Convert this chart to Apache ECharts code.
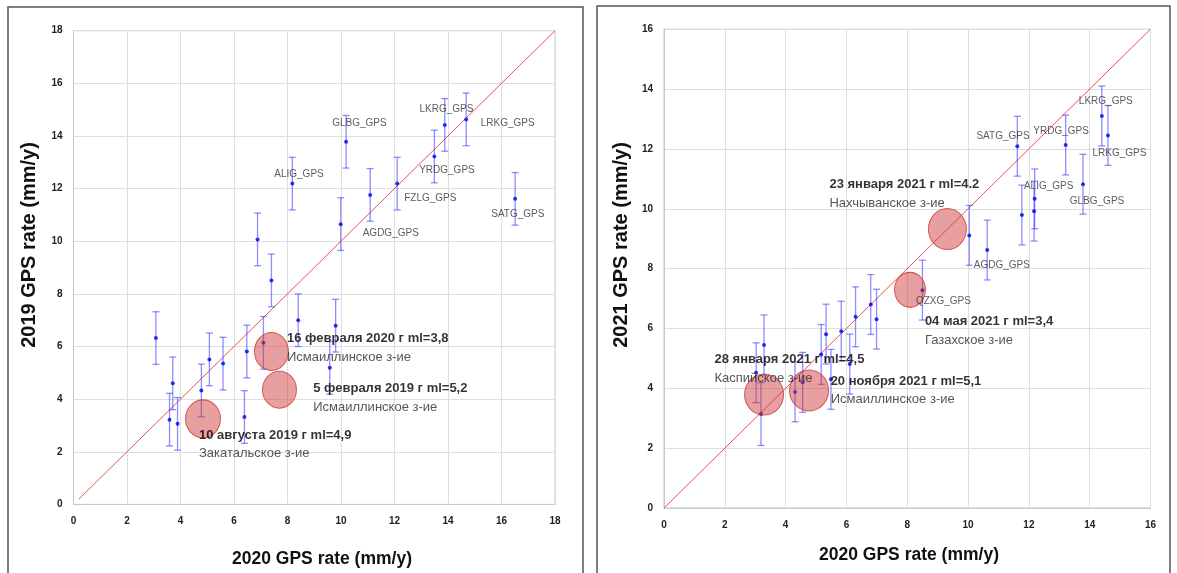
<!DOCTYPE html>
<html>
<head>
<meta charset="utf-8">
<script src="https://cdn.jsdelivr.net/npm/echarts@6/dist/echarts.min.js"></script>
<style>
  html, body { margin: 0; padding: 0; background: #fff; }
  #chart { width: 1177px; height: 573px; }
</style>
</head>
<body>
<div id="chart"></div>
<script>
// ---- left panel: 2020 vs 2019 ----
const leftX = [3.08, 3.59, 3.71, 3.89, 4.78, 5.08, 5.59, 6.39, 6.48, 6.88, 7.10, 7.40, 8.18, 8.40, 9.58, 9.80, 9.99, 10.19, 11.09, 12.10, 13.49, 13.88, 14.68, 16.51];
const leftY = [6.32, 3.22, 4.60, 3.06, 4.33, 5.51, 5.35, 3.32, 5.81, 10.07, 6.14, 8.51, 12.19, 7.00, 5.19, 6.79, 10.65, 13.78, 11.76, 12.19, 13.22, 14.42, 14.63, 11.61];
const leftErr = [1.0, 1.0, 1.0, 1.0, 1.0, 1.0, 1.0, 1.0, 1.0, 1.0, 1.0, 1.0, 1.0, 1.0, 1.0, 1.0, 1.0, 1.0, 1.0, 1.0, 1.0, 1.0, 1.0, 1.0];
const leftStations = ['ALIG_GPS', 'GLBG_GPS', 'LKRG_GPS', 'LRKG_GPS', 'YRDG_GPS', 'FZLG_GPS', 'AGDG_GPS', 'SATG_GPS'];
const leftStationX = [8.43, 10.69, 13.94, 16.23, 13.96, 13.34, 11.86, 16.61];
const leftStationY = [12.53, 14.47, 15.03, 14.47, 12.69, 11.63, 10.31, 11.04];
const leftQuakeX = [4.84, 7.40, 7.70];
const leftQuakeY = [3.25, 5.81, 4.36];
const leftQuakeTitle = ['10 августа 2019 г ml=4,9', '16 февраля 2020 г ml=3,8', '5 февраля 2019 г ml=5,2'];
const leftQuakePlace = ['Закатальское з-ие', 'Исмаиллинское з-ие', 'Исмаиллинское з-ие'];
const leftQuakeTextX = [4.69, 7.98, 8.96];
const leftQuakeTextY = [2.64, 6.29, 4.40];
const leftDiag = [0.2, 18];

// ---- right panel: 2020 vs 2021 ----
const rightX = [3.03, 3.19, 3.29, 4.31, 4.56, 5.17, 5.33, 5.49, 5.83, 6.11, 6.30, 6.80, 6.99, 8.50, 10.04, 10.63, 11.77, 12.17, 12.19, 11.62, 13.21, 13.78, 14.40, 14.60];
const rightY = [4.52, 3.14, 5.45, 3.88, 4.20, 5.13, 5.81, 4.30, 5.91, 4.81, 6.39, 6.80, 6.31, 7.28, 9.11, 8.62, 9.79, 9.92, 10.33, 12.09, 12.13, 10.82, 13.10, 12.45];
const rightErr = [1.0, 1.05, 1.0, 1.0, 1.0, 1.0, 1.0, 1.0, 1.0, 1.0, 1.0, 1.0, 1.0, 1.0, 1.0, 1.0, 1.0, 1.0, 1.0, 1.0, 1.0, 1.0, 1.0, 1.0];
const rightStations = ['LKRG_GPS', 'SATG_GPS', 'YRDG_GPS', 'LRKG_GPS', 'ALIG_GPS', 'GLBG_GPS', 'AGDG_GPS', 'QZXG_GPS'];
const rightStationX = [14.53, 11.15, 13.06, 14.98, 12.65, 14.24, 11.11, 9.19];
const rightStationY = [13.59, 12.41, 12.60, 11.84, 10.74, 10.25, 8.10, 6.90];
const rightQuakeX = [9.32, 8.09, 3.29, 4.77];
const rightQuakeY = [9.32, 7.29, 3.79, 3.93];
const rightQuakeTitle = ['23 января 2021 г ml=4.2', '04 мая 2021 г ml=3,4', '28 января 2021 г ml=4,5', '20 ноября 2021 г ml=5,1'];
const rightQuakePlace = ['Нахчыванское з-ие', 'Газахское з-ие', 'Каспийское з-ие', 'Исмаиллинское з-ие'];
const rightQuakeTextX = [5.44, 8.58, 1.66, 5.48];
const rightQuakeTextY = [10.81, 6.23, 4.95, 4.24];
const rightDiag = [0, 16];

// bubble sizes [w, h] in px (style, not data)
const leftBubbleSize = [[35, 38], [34, 38], [34, 37]];
const rightBubbleSize = [[38, 41], [31, 35], [39, 41], [39, 41]];

const FONT = '"Liberation Sans", Arial, sans-serif';
const chart = echarts.init(document.getElementById('chart'));

function errBar(params, api) {
    const x = api.value(0), y = api.value(1), e = api.value(2);
    const top = api.coord([x, y + e]);
    const bot = api.coord([x, y - e]);
    const st = { stroke: 'rgba(50,50,255,0.55)', lineWidth: 1.3 };
    const c = 3.5;
    return {
        type: 'group',
        children: [
            { type: 'line', shape: { x1: top[0], y1: top[1], x2: bot[0], y2: bot[1] }, style: st },
            { type: 'line', shape: { x1: top[0] - c, y1: top[1], x2: top[0] + c, y2: top[1] }, style: st },
            { type: 'line', shape: { x1: bot[0] - c, y1: bot[1], x2: bot[0] + c, y2: bot[1] }, style: st }
        ]
    };
}

function panelSeries(idx, xs, ys, errs, st, stX, stY, qX, qY, qTitle, qPlace, qTX, qTY, diag, bubbleSize) {
    const ax = { xAxisIndex: idx, yAxisIndex: idx };
    const lineH = idx === 0 ? 0.71 : 0.62;
    const textData = [];
    qTitle.forEach((t, i) => {
        textData.push({ value: [qTX[i], qTY[i]], name: t, label: { fontWeight: 'bold', color: '#000' } });
        textData.push({ value: [qTX[i], qTY[i] - lineH], name: qPlace[i], label: { fontWeight: 'normal', color: '#2a2a2a' } });
    });
    return [
        Object.assign({
            type: 'line', data: [[diag[0], diag[0]], [diag[1], diag[1]]],
            symbol: 'none', lineStyle: { color: '#e05555', width: 1 }, z: 2, silent: true
        }, ax),
        Object.assign({
            type: 'custom', renderItem: errBar,
            data: xs.map((x, i) => [x, ys[i], errs[i]]),
            encode: { x: 0, y: 1 }, z: 3
        }, ax),
        Object.assign({
            type: 'scatter', data: xs.map((x, i) => [x, ys[i]]),
            symbolSize: 4, itemStyle: { color: '#0000ee' }, z: 4
        }, ax),
        Object.assign({
            type: 'scatter',
            data: qX.map((x, i) => ({ value: [x, qY[i]], symbolSize: bubbleSize[i] })),
            itemStyle: { color: 'rgba(205,55,55,0.6)', borderColor: '#c83a3a', borderWidth: 1 },
            z: 5
        }, ax),
        Object.assign({
            type: 'scatter', symbolSize: 0,
            data: st.map((s, i) => ({ value: [stX[i], stY[i]], name: s })),
            label: { show: true, position: 'inside', formatter: '{b}', fontSize: 10, color: '#333', fontFamily: FONT },
            z: 6
        }, ax),
        Object.assign({
            type: 'scatter', symbolSize: 0, data: textData,
            label: { show: true, position: 'right', distance: 0, formatter: '{b}', fontSize: 13, fontFamily: FONT },
            z: 7
        }, ax)
    ];
}

function xAxisCfg(idx, max) {
    return {
        gridIndex: idx, type: 'value', min: 0, max: max, interval: 2,
        axisLine: { lineStyle: { color: '#c8c8c8' } }, axisTick: { show: false },
        axisLabel: { fontSize: 10, fontWeight: 'bold', color: '#222', margin: 12, fontFamily: FONT },
        splitLine: { lineStyle: { color: '#dedede' } }
    };
}
function yAxisCfg(idx, max) {
    return {
        gridIndex: idx, type: 'value', min: 0, max: max, interval: 2,
        axisLine: { show: true, lineStyle: { color: '#c8c8c8' } }, axisTick: { show: false },
        axisLabel: { fontSize: 10, fontWeight: 'bold', color: '#222', margin: 11, fontFamily: FONT },
        splitLine: { lineStyle: { color: '#dedede' } }
    };
}

function titleText(text, x, y, size, rotate) {
    return {
        type: 'text', x: x, y: y, rotation: rotate ? Math.PI / 2 : 0,
        style: { text: text, fill: '#111', font: 'bold ' + size + 'px ' + FONT, align: 'center', verticalAlign: 'middle' },
        z: 10
    };
}

const option = {
    animation: false,
    backgroundColor: '#fff',
    textStyle: { fontFamily: FONT },
    graphic: [
        { type: 'rect', shape: { x: 8, y: 7, width: 575, height: 620 }, style: { fill: 'none', stroke: '#555', lineWidth: 1.5 }, z: 0 },
        { type: 'rect', shape: { x: 597, y: 6, width: 573, height: 620 }, style: { fill: 'none', stroke: '#555', lineWidth: 1.5 }, z: 0 },
        titleText('2020 GPS rate (mm/y)', 322, 559, 17.5, false),
        titleText('2019 GPS rate (mm/y)', 29, 245, 20, true),
        titleText('2020 GPS rate (mm/y)', 909, 555, 17.5, false),
        titleText('2021 GPS rate (mm/y)', 621, 245, 20, true)
    ],
    grid: [
        { left: 73.5, top: 30.7, width: 481.5, height: 473.7, show: true, borderColor: '#c8c8c8', borderWidth: 1 },
        { left: 664, top: 29.2, width: 486.5, height: 478.8, show: true, borderColor: '#c8c8c8', borderWidth: 1 }
    ],
    xAxis: [xAxisCfg(0, 18), xAxisCfg(1, 16)],
    yAxis: [yAxisCfg(0, 18), yAxisCfg(1, 16)],
    series: [].concat(
        panelSeries(0, leftX, leftY, leftErr, leftStations, leftStationX, leftStationY,
            leftQuakeX, leftQuakeY, leftQuakeTitle, leftQuakePlace, leftQuakeTextX, leftQuakeTextY, leftDiag, leftBubbleSize),
        panelSeries(1, rightX, rightY, rightErr, rightStations, rightStationX, rightStationY,
            rightQuakeX, rightQuakeY, rightQuakeTitle, rightQuakePlace, rightQuakeTextX, rightQuakeTextY, rightDiag, rightBubbleSize)
    )
};
chart.setOption(option);
</script>
</body>
</html>
